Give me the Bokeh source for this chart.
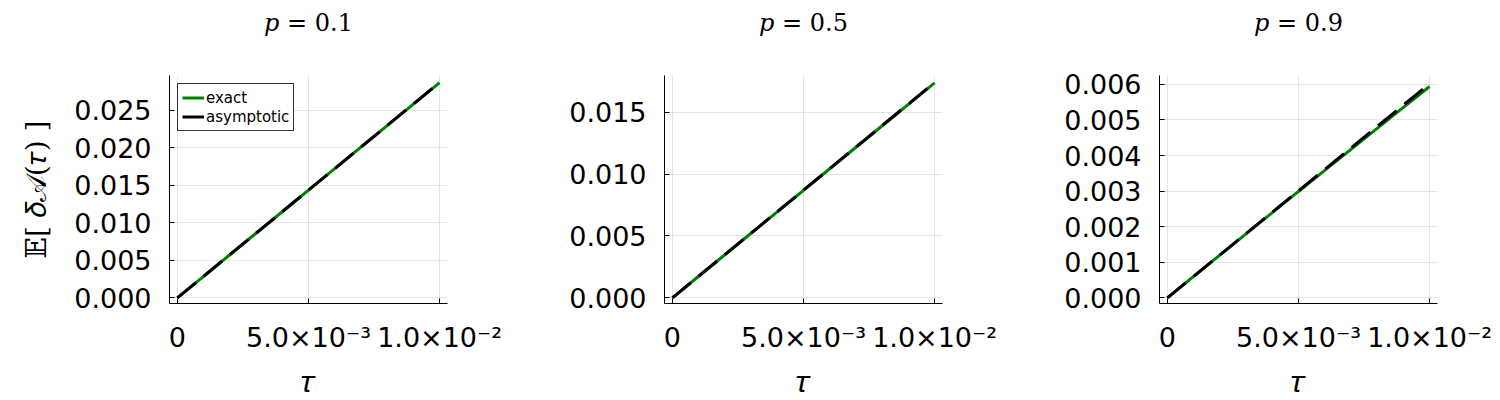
from bokeh.plotting import figure
from bokeh.layouts import row
from bokeh.models import Range1d, FixedTicker, Legend, LegendItem, Title
from bokeh.embed import file_html
from bokeh.resources import INLINE

# ---- data ----
tau = [0.0, 0.001, 0.002, 0.003, 0.004, 0.005, 0.006, 0.007, 0.008, 0.009, 0.010]

exact_p01 = [0.0, 0.00287, 0.00575, 0.00862, 0.01149, 0.01436, 0.01723, 0.02010, 0.02297, 0.02584, 0.02871]
asym_p01 = [0.0, 0.00287, 0.00575, 0.00862, 0.01150, 0.01437, 0.01724, 0.02012, 0.02299, 0.02587, 0.02874]

exact_p05 = [0.0, 0.00174, 0.00348, 0.00522, 0.00695, 0.00869, 0.01043, 0.01217, 0.01391, 0.01564, 0.01738]
asym_p05 = [0.0, 0.00174, 0.00348, 0.00522, 0.00696, 0.00870, 0.01044, 0.01218, 0.01392, 0.01566, 0.01740]

exact_p09 = [0.0, 0.000601, 0.001201, 0.001799, 0.002395, 0.002990, 0.003583, 0.004175, 0.004765, 0.005353, 0.005940]
asym_p09 = [0.0, 0.000602, 0.001204, 0.001806, 0.002408, 0.003010, 0.003612, 0.004214, 0.004816, 0.005418, 0.006020]

titles = ["\U0001D45D = 0.1", "\U0001D45D = 0.5", "\U0001D45D = 0.9"]
y_ticks = [
    [0.0, 0.005, 0.010, 0.015, 0.020, 0.025],
    [0.0, 0.005, 0.010, 0.015],
    [0.0, 0.001, 0.002, 0.003, 0.004, 0.005, 0.006],
]
y_ranges = [(-0.00076, 0.02967), (-0.00046, 0.01797), (-0.00016, 0.00625)]
x_ticks = [0.0, 0.005, 0.01]
x_tick_labels = ["0", "5.0\u00d710\u207b\u00b3", "1.0\u00d710\u207b\u00b2"]

exacts = [exact_p01, exact_p05, exact_p09]
asyms = [asym_p01, asym_p05, asym_p09]

TICK_FONT = "DejaVu Sans"
SERIF = "DejaVu Serif"
FRAME_W, FRAME_H = 278, 228


def make_panel(i):
    p = figure(frame_width=FRAME_W, frame_height=FRAME_H,
               min_border_left=169 if i == 0 else 161, min_border_right=56,
               min_border_top=75, min_border_bottom=90,
               x_range=Range1d(-0.0003, 0.0103),
               y_range=Range1d(*y_ranges[i]),
               output_backend="svg", toolbar_location=None)
    p.outline_line_color = None
    p.background_fill_color = "white"
    p.border_fill_color = "white"

    # title (real text) plus an invisible spacer title between it and the frame
    p.title.text = titles[i]
    p.title.align = "center"
    p.title.text_font = SERIF
    p.title.text_font_size = "24px"
    p.title.text_font_style = "normal"
    p.title.text_color = "black"
    p.title.standoff = 0
    spacer = Title(text=" ", text_font_size="33px", text_color="white", standoff=0)
    p.add_layout(spacer, "above")

    # axes
    for ax in (p.xaxis[0], p.yaxis[0]):
        ax.axis_line_color = "black"
        ax.axis_line_width = 1
        ax.major_tick_in = 5
        ax.major_tick_out = 0
        ax.minor_tick_line_color = None
        ax.major_tick_line_color = "black"
        ax.major_label_text_font = TICK_FONT
        ax.major_label_text_font_size = "27px"
        ax.major_label_text_color = "black"
        ax.major_label_standoff = 18

    p.xaxis.ticker = FixedTicker(ticks=x_ticks)
    p.xaxis.major_label_overrides = {t: l for t, l in zip(x_ticks, x_tick_labels)}
    p.xaxis.axis_label = "\U0001D70F"
    p.xaxis.axis_label_text_font = SERIF
    p.xaxis.axis_label_text_font_size = "30px"
    p.xaxis.axis_label_text_font_style = "normal"
    p.xaxis.axis_label_text_color = "black"
    p.xaxis.axis_label_standoff = 8

    p.yaxis.ticker = FixedTicker(ticks=y_ticks[i])
    p.yaxis.major_label_overrides = {t: "%.3f" % t for t in y_ticks[i]}
    if i == 0:
        p.yaxis.axis_label = "\U0001D53C[ \U0001D6FF\U0001D49C(\U0001D70F) ]"
        p.yaxis.axis_label_text_font = SERIF
        p.yaxis.axis_label_text_font_size = "28px"
        p.yaxis.axis_label_text_font_style = "normal"
        p.yaxis.axis_label_text_color = "black"
        p.yaxis.axis_label_standoff = 18

    # grid
    for g in (p.xgrid[0], p.ygrid[0]):
        g.grid_line_color = "black"
        g.grid_line_alpha = 0.1
        g.grid_line_width = 1

    r1 = p.line(tau, exacts[i], line_color="#008000", line_width=3)
    r2 = p.line(tau, asyms[i], line_color="black", line_width=3, line_dash="24 10")

    if i == 0:
        leg = Legend(items=[LegendItem(label="exact", renderers=[r1]),
                            LegendItem(label="asymptotic", renderers=[r2])],
                     location="top_left")
        leg.margin = 8
        leg.padding = 4
        leg.spacing = 0
        leg.label_height = 19
        leg.glyph_height = 19
        leg.glyph_width = 22
        leg.label_standoff = 2
        leg.label_text_font = TICK_FONT
        leg.label_text_font_size = "15px"
        leg.label_text_color = "black"
        leg.border_line_color = "black"
        leg.border_line_alpha = 0.8
        leg.border_line_width = 1
        leg.background_fill_alpha = 1
        p.add_layout(leg)
    return p


panels = [make_panel(i) for i in range(3)]
layout = row(*panels)
open("out.html", "w").write(file_html(layout, INLINE))
